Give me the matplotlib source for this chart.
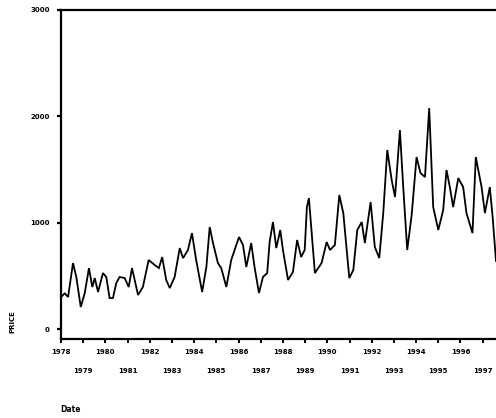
import matplotlib
matplotlib.use("Agg")
import matplotlib.pyplot as plt
from matplotlib.ticker import FixedLocator, FixedFormatter

# monthly series, traced as (decimal year, value)
years = [
    1978.00, 1978.17, 1978.32, 1978.54, 1978.69, 1978.89, 1979.07, 1979.26, 1979.41, 1979.52,
    1979.67, 1979.89, 1980.04, 1980.19, 1980.34, 1980.49, 1980.64, 1980.87, 1981.05, 1981.20,
    1981.47, 1981.69, 1981.95, 1982.22, 1982.41, 1982.56, 1982.74, 1982.90, 1983.12, 1983.35,
    1983.50, 1983.72, 1983.90, 1984.09, 1984.36, 1984.55, 1984.70, 1984.85, 1985.07, 1985.22,
    1985.45, 1985.67, 1986.02, 1986.20, 1986.35, 1986.57, 1986.72, 1986.92, 1987.10, 1987.29,
    1987.40, 1987.55, 1987.70, 1987.88, 1988.00, 1988.23, 1988.45, 1988.64, 1988.82, 1988.98,
    1989.08, 1989.17, 1989.44, 1989.74, 1989.97, 1990.12, 1990.34, 1990.54, 1990.72, 1990.99,
    1991.17, 1991.35, 1991.55, 1991.69, 1991.95, 1992.14, 1992.34, 1992.52, 1992.70, 1992.90,
    1993.05, 1993.27, 1993.42, 1993.60, 1993.80, 1994.02, 1994.20, 1994.40, 1994.59, 1994.77,
    1995.00, 1995.22, 1995.37, 1995.52, 1995.67, 1995.90, 1996.12, 1996.27, 1996.54, 1996.69,
    1996.95, 1997.10, 1997.32, 1997.45, 1997.60,
]
values = [
    301, 335, 301, 620, 489, 207, 338, 573, 395, 479,
    348, 526, 489, 291, 291, 432, 489, 479, 395, 573,
    320, 395, 649, 602, 573, 677, 461, 385, 489, 761,
    667, 743, 902, 649, 348, 583, 959, 808, 620, 573,
    395, 649, 865, 790, 583, 808, 583, 338, 489, 526,
    818, 1006, 761, 931, 743, 461, 536, 837, 677, 743,
    1147, 1231, 526, 620, 818, 743, 790, 1260, 1090, 479,
    555, 931, 1006, 808, 1194, 771, 667, 1090, 1683, 1401,
    1241, 1871, 1335, 743, 1072, 1617, 1466, 1429, 2077, 1147,
    931, 1119, 1495, 1335, 1147, 1419, 1335, 1090, 902, 1617,
    1335, 1090, 1335, 1050, 640,
]

ytick_vals = [0, 1000, 2000, 3000]
ytick_labels = ["0", "1000", "2000", "3000"]
xtick_top = [1978, 1980, 1982, 1984, 1986, 1988, 1990, 1992, 1994, 1996]
xtick_bottom = [1979, 1981, 1983, 1985, 1987, 1989, 1991, 1993, 1995, 1997]

W, H = 496, 418
fig = plt.figure(figsize=(W / 100, H / 100), dpi=100)
fig.patch.set_facecolor("white")

# axes box in pixels: left 61, top 10, bottom 339, runs off the right edge
left, top, bottom, right = 61, 10, 339, 496
ax = fig.add_axes([left / W, 1 - bottom / H, (right - left) / W, (bottom - top) / H])

ax.plot(years, values, color="black", lw=1.3, solid_joinstyle="miter")

ax.set_xlim(1978.0, 1997.6)
ax.set_ylim(-94, 3000)

for s in ("left", "bottom", "top"):
    ax.spines[s].set_linewidth(1.6)
ax.spines["right"].set_visible(False)

ax.set_yticks(ytick_vals)
ax.set_yticklabels(ytick_labels, fontsize=5, fontweight="bold")
ax.tick_params(axis="y", length=3, width=1.6, pad=5)

ax.xaxis.set_major_locator(FixedLocator(xtick_top))
ax.xaxis.set_major_formatter(FixedFormatter([str(y) for y in xtick_top]))
ax.xaxis.set_minor_locator(FixedLocator(xtick_bottom))
ax.xaxis.set_minor_formatter(FixedFormatter([str(y) for y in xtick_bottom]))
ax.tick_params(axis="x", which="major", length=3, width=1.4, pad=4,
               labelsize=5)
ax.tick_params(axis="x", which="minor", length=3, width=1.4, pad=18,
               labelsize=5)
for lab in ax.get_xticklabels(which="both"):
    lab.set_fontweight("bold")

fig.text(12 / W, 1 - 322 / H, "PRICE", rotation=90, fontsize=5,
         fontweight="bold", ha="center", va="center")
fig.text(60 / W, 1 - 409 / H, "Date", fontsize=5.5, fontweight="bold",
         ha="left", va="center")

fig.savefig("out.png", dpi=100, facecolor="white")
